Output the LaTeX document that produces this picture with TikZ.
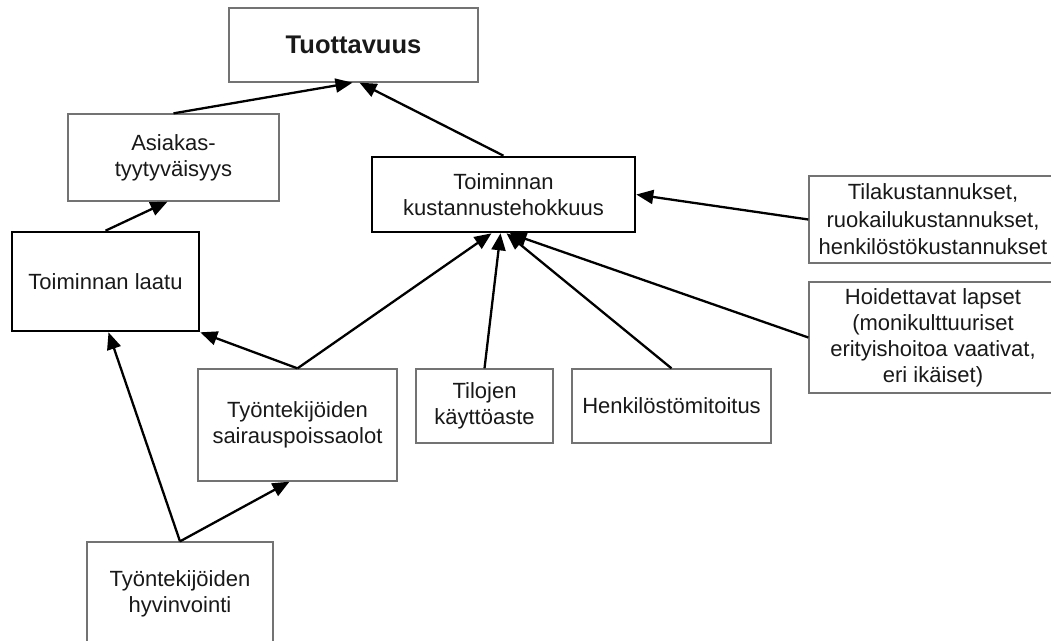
\documentclass[tikz,border=0pt]{standalone}
\usepackage{fontspec}
\setmainfont{Liberation Sans}
\usetikzlibrary{arrows.meta}
\definecolor{boxgray}{RGB}{115,115,115}
\definecolor{txt}{RGB}{25,25,25}
\begin{document}
\begin{tikzpicture}[x=1pt,y=-1pt,
  thinbox/.style={draw=boxgray, line width=1.3pt, fill=white, inner sep=0pt,
    align=center, text=txt, font=\fontsize{22}{26}\selectfont},
  thickbox/.style={thinbox, draw=black, line width=2.6pt},
  arr/.style={line width=2.3pt, draw=black, -{Triangle[length=17pt,width=14pt]}}]
\clip (0,0) rectangle (1051,640);
\fill[white] (0,0) rectangle (1051,640);

\node[thinbox, minimum width=249, minimum height=74, font=\fontsize{25.5}{30}\selectfont\bfseries] (tuot) at (353.5,45) {Tuottavuus};
\node[thinbox, minimum width=211, minimum height=87] (asiak) at (173.5,157.5) {Asiakas-\\tyytyväisyys};
\node[thickbox, minimum width=187, minimum height=99] (laatu) at (105.5,281.5) {Toiminnan laatu};
\node[thickbox, minimum width=263, minimum height=75] (kust) at (503.5,194.5) {Toiminnan\\kustannustehokkuus};
\node[thinbox, minimum width=248, minimum height=87, font=\fontsize{22}{27.5}\selectfont] (tilak) at (933,219.5) {Tilakustannukset,\\ruokailukustannukset,\\henkilöstökustannukset};
\node[thinbox, minimum width=248, minimum height=111] (hoid) at (933,337.5) {Hoidettavat lapset\\(monikulttuuriset\\erityishoitoa vaativat,\\eri ikäiset)};
\node[thinbox, minimum width=199, minimum height=112] (sair) at (297.5,425) {Työntekijöiden\\sairauspoissaolot};
\node[thinbox, minimum width=137, minimum height=74] (tiloj) at (484.5,406) {Tilojen\\käyttöaste};
\node[thinbox, minimum width=199, minimum height=74] (henk) at (671.5,406) {Henkilöstömitoitus};
\node[thinbox, minimum width=186, minimum height=103] (hyv) at (180,593.5) {Työntekijöiden\\hyvinvointi};

\draw[arr] (asiak.north) -- ([xshift=-1pt]tuot.south);
\draw[arr] (kust.north) -- ([xshift=6pt]tuot.south);
\draw[arr] (laatu.north) -- ([xshift=-6pt]asiak.south);
\draw[arr] (sair.north) -- (laatu.south east);
\draw[arr] (sair.north) -- ([xshift=-12pt]kust.south);
\draw[arr] (tiloj.north) -- ([xshift=-3pt]kust.south);
\draw[arr] (henk.north) -- ([xshift=3pt]kust.south);
\draw[arr] (hoid.west) -- ([xshift=6pt]kust.south);
\draw[arr] (tilak.west) -- (kust.east);
\draw[arr] (hyv.north) -- ([xshift=3pt]laatu.south);
\draw[arr] (hyv.north) -- ([xshift=-8pt]sair.south);
\end{tikzpicture}
\end{document}
